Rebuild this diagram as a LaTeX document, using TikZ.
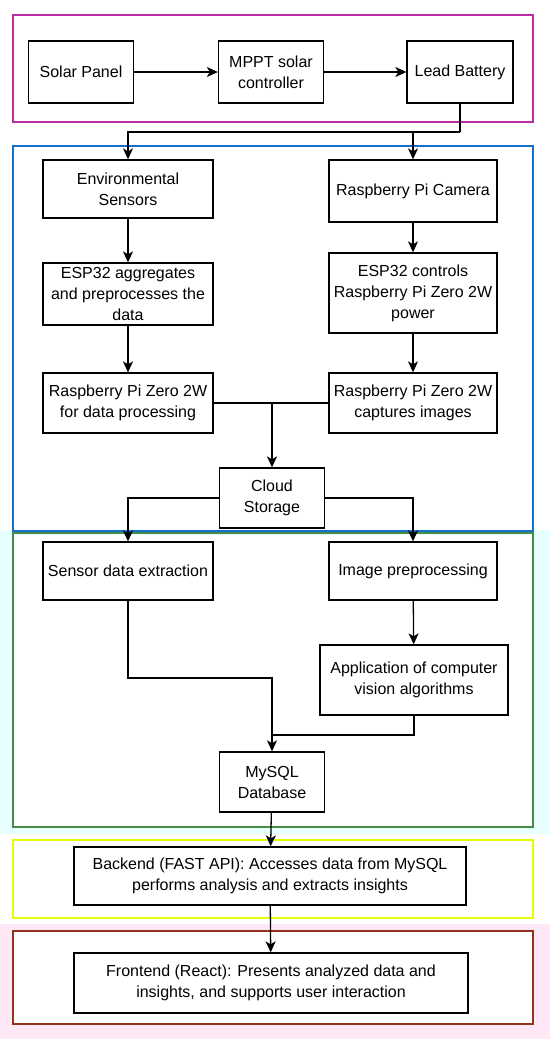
\documentclass[tikz,border=0pt]{standalone}
\usepackage{fontspec}
\setmainfont{Liberation Sans}
\usepackage{tikz}
\usetikzlibrary{positioning, arrows.meta, calc}
\definecolor{frMagenta}{RGB}{190,45,160}
\definecolor{frBlue}{RGB}{20,112,200}
\definecolor{frGreen}{RGB}{70,140,70}
\definecolor{frYellow}{RGB}{228,255,0}
\definecolor{frRed}{RGB}{150,50,25}
\definecolor{bgCyan}{RGB}{232,255,255}
\definecolor{bgPink}{RGB}{255,232,246}

\begin{document}
\begin{tikzpicture}[
    x=1pt, y=-1pt,
    box/.style={rectangle, draw=black, line width=1.3pt, fill=white, align=center, font=\fontsize{16}{21}\selectfont, inner sep=2pt},
    arrow/.style={-{Stealth[length=11pt, width=10pt, inset=3pt]}, line width=1.3pt},
    wire/.style={line width=1.3pt},
    frame/.style={line width=2.6pt}
]
\useasboundingbox (0,0) rectangle (550,1039);

% Background bands
\fill[bgCyan] (0,530) rectangle (550,834);
\fill[bgPink] (0,924) rectangle (550,1039);
\fill[white] (14,535) rectangle (532,826);
\fill[white] (14,932) rectangle (532,1023);

% Frames
\draw[frame, draw=frMagenta] (13,15) rectangle (533,122);
\draw[frame, draw=frBlue] (13,146) rectangle (533,531);
\draw[frame, draw=frGreen] (13,533) rectangle (533,827);
\draw[frame, draw=frYellow] (13,840) rectangle (533,918);
\draw[frame, draw=frRed] (13,931) rectangle (533,1024);

% Power nodes
\node[box, minimum width=105pt, minimum height=62pt] (solar) at (81,72) {Solar Panel};
\node[box, minimum width=105pt, minimum height=62pt] (mppt) at (271,72) {MPPT solar\\controller};
\node[box, minimum width=106pt, minimum height=62pt] (lead) at (460,72) {Lead Battery};

% Acquisition nodes
\node[box, minimum width=170pt, minimum height=58pt] (env) at (128,189) {Environmental\\Sensors};
\node[box, minimum width=170pt, minimum height=62pt] (agg) at (128,294) {ESP32 aggregates\\and preprocesses the\\data};
\node[box, minimum width=170pt, minimum height=60pt] (rpil) at (128,403) {Raspberry Pi Zero 2W\\for data processing};
\node[box, minimum width=168pt, minimum height=62pt] (cam) at (413,191) {Raspberry Pi Camera};
\node[box, minimum width=168pt, minimum height=80pt] (ctrl) at (413,293) {ESP32 controls\\Raspberry Pi Zero 2W\\power};
\node[box, minimum width=168pt, minimum height=60pt] (rpir) at (413,403) {Raspberry Pi Zero 2W\\captures images};
\node[box, minimum width=105pt, minimum height=60pt] (cloud) at (272,498) {Cloud\\Storage};

% Processing nodes
\node[box, minimum width=170pt, minimum height=58pt] (sens) at (128,571) {Sensor data extraction};
\node[box, minimum width=168pt, minimum height=58pt] (img) at (413,571) {Image preprocessing};
\node[box, minimum width=188pt, minimum height=70pt] (app) at (414,680) {Application of computer\\vision algorithms};
\node[box, minimum width=105pt, minimum height=60pt] (mysql) at (272,782) {MySQL\\Database};

% Application nodes
\node[box, minimum width=392pt, minimum height=58pt] (back) at (270,876) {Backend (FAST API): Accesses data from MySQL\\performs analysis and extracts insights};
\node[box, minimum width=394pt, minimum height=60pt] (front) at (271,983) {Frontend (React): Presents analyzed data and\\insights, and supports user interaction};

% Junctions
\coordinate (pwr) at (lead.south |- 0,132);
\coordinate (mrg) at (cloud.north |- rpil.east);
\coordinate (jsens) at (mysql.north |- 0,678);
\coordinate (japp) at (mysql.north |- 0,735);

% Arrows
\draw[arrow] (solar) -- (mppt);
\draw[arrow] (mppt) -- (lead);
\draw[wire] (lead.south) -- (pwr);
\draw[arrow] (pwr) -| (env.north);
\draw[arrow] (pwr) -| (cam.north);
\draw[arrow] (env) -- (agg);
\draw[arrow] (agg) -- (rpil);
\draw[arrow] (cam) -- (ctrl);
\draw[arrow] (ctrl) -- (rpir);
\draw[wire] (rpil.east) -- (mrg);
\draw[wire] (rpir.west) -- (mrg);
\draw[arrow] (mrg) -- (cloud.north);
\draw[arrow] (cloud.west) -| (sens.north);
\draw[arrow] (cloud.east) -| (img.north);
\draw[arrow] (img) -- (app);
\draw[arrow] (sens.south) |- (jsens) -- (mysql.north);
\draw[wire] (app.south) |- (japp);
\draw[arrow] (mysql) -- (back);
\draw[arrow] (back) -- (front);
\end{tikzpicture}
\end{document}
